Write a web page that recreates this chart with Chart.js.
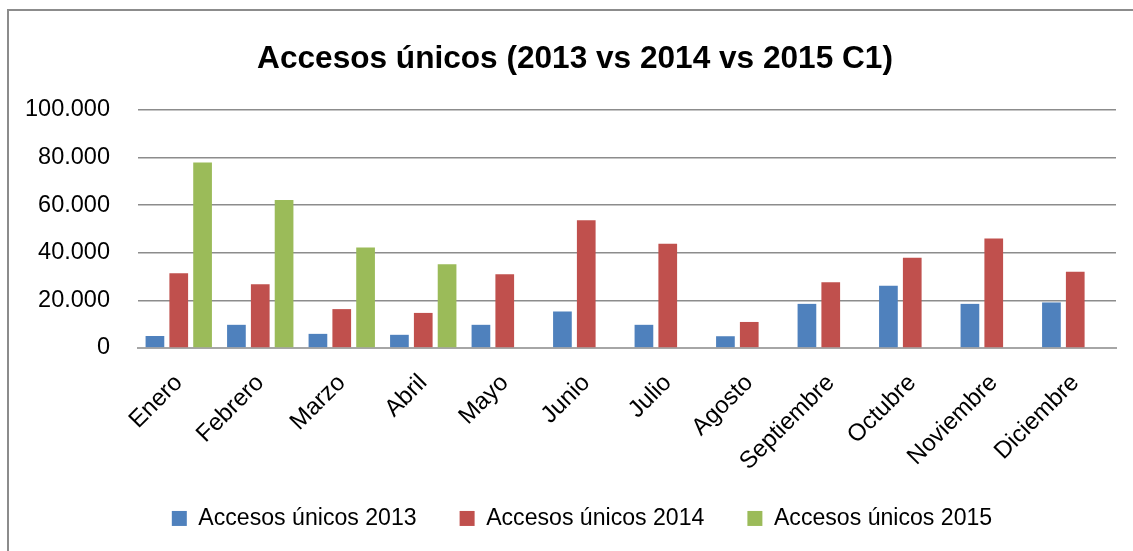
<!DOCTYPE html>
<html>
<head>
<meta charset="utf-8">
<script src="https://cdn.jsdelivr.net/npm/chart.js@4"></script>
<style>
  html, body { margin: 0; padding: 0; background: #fff; }
  #wrap { position: relative; width: 1133px; height: 551px; overflow: hidden; }
  #frame { position: absolute; left: 7px; top: 9px; width: 1200px; height: 600px;
           border-left: 2px solid #8c8c8c; border-top: 2px solid #8c8c8c; }
  canvas { position: absolute; left: 0; top: 0; }
</style>
</head>
<body>
<div id="wrap">
  <div id="frame"></div>
  <canvas id="c" width="1133" height="551"></canvas>
</div>
<script>
// Months on the category axis
const months = ['Enero', 'Febrero', 'Marzo', 'Abril', 'Mayo', 'Junio', 'Julio',
                'Agosto', 'Septiembre', 'Octubre', 'Noviembre', 'Diciembre'];

// Values
const accesos2013 = [5000, 9700, 5900, 5500, 9700, 15300, 9700, 4900, 18500, 26100, 18500, 19100];
const accesos2014 = [31400, 26700, 16300, 14700, 30900, 53600, 43800, 10900, 27600, 37900, 46000, 32000];
const accesos2015 = [77900, 62200, 42200, 35200, null, null, null, null, null, null, null, null];

const seriesNames = ['Accesos únicos 2013', 'Accesos únicos 2014', 'Accesos únicos 2015'];
const yTicks = [0, 20000, 40000, 60000, 80000, 100000];

const FONT = '"Liberation Sans", Arial, sans-serif';

// spanish thousands separator: 100.000
function fmt(v) {
    return v === 0 ? '0' : String(v).replace(/\B(?=(\d{3})+(?!\d))/g, '.');
}

// Excel centres title and legend over the whole frame, not the chart box;
// nudge both boxes right after layout.
const nudgeBoxes = {
    id: 'nudgeBoxes',
    afterLayout(chart) {
        const t = chart.titleBlock;
        if (t) { t.left += 17; t.right += 17; }
        const l = chart.legend;
        if (l) { l.left += 24; l.right += 24; }
    },
};

const ctx = document.getElementById('c').getContext('2d');
new Chart(ctx, {
    type: 'bar',
    data: {
        labels: months,
        datasets: [
            { label: seriesNames[0], data: accesos2013, backgroundColor: '#4F81BD' },
            { label: seriesNames[1], data: accesos2014, backgroundColor: '#C0504D' },
            { label: seriesNames[2], data: accesos2015, backgroundColor: '#9BBB59' },
        ],
    },
    plugins: [nudgeBoxes],
    options: {
        responsive: false,
        animation: false,
        devicePixelRatio: 1,
        categoryPercentage: 0.877,
        barPercentage: 0.785,
        layout: { padding: { left: 0, right: 17, top: 22, bottom: 11 } },
        plugins: {
            title: {
                display: true,
                text: 'Accesos únicos (2013 vs 2014 vs 2015 C1)',
                color: '#000',
                font: { family: FONT, size: 31.6, weight: 'bold' },
                padding: { top: 18, bottom: 32 },
            },
            legend: {
                position: 'bottom',
                labels: {
                    color: '#000',
                    font: { family: FONT, size: 23.1 },
                    boxWidth: 15,
                    boxHeight: 15,
                    padding: 43,
                },
            },
            tooltip: { enabled: false },
        },
        scales: {
            x: {
                grid: { display: false },
                border: { display: true, color: '#a6a6a6', width: 2 },
                ticks: {
                    color: '#000',
                    font: { family: FONT, size: 24 },
                    maxRotation: 45,
                    minRotation: 45,
                    padding: 13,
                },
                afterFit: (s) => {
                    s.height = 116;
                    // long rotated labels may run past the fixed box; don't clip them
                    s._computeLabelArea = () => undefined;
                },
            },
            y: {
                min: 0,
                max: 100000,
                afterBuildTicks: (s) => { s.ticks = yTicks.map(v => ({ value: v })); },
                grid: { color: '#8c8c8c', lineWidth: 1.5, drawTicks: false },
                border: { display: false },
                ticks: {
                    color: '#000',
                    font: { family: FONT, size: 23.5 },
                    padding: 28,
                    callback: (v) => fmt(v),
                },
                afterFit: (s) => { s.width = 138; },
            },
        },
    },
});
</script>
</body>
</html>
